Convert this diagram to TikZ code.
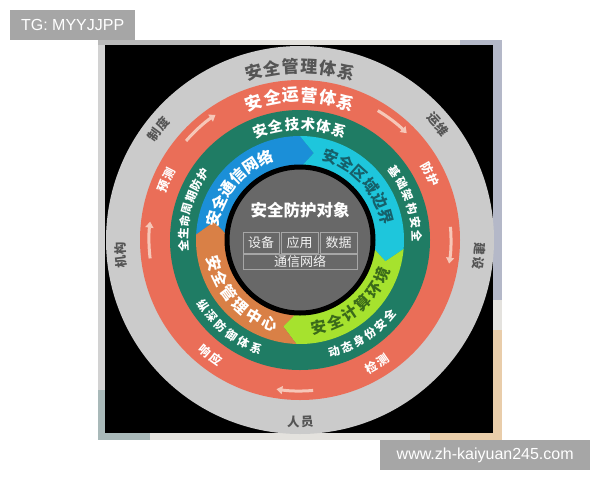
\documentclass[tikz,border=0pt]{standalone}
\usepackage{fontspec}
\setmainfont{Noto Sans CJK SC}
\newfontfamily\wmfont{Liberation Sans}
\usetikzlibrary{arrows.meta}
\definecolor{framebg}{HTML}{E4E2DE}
\definecolor{ringgray}{HTML}{CBCBCB}
\definecolor{ringred}{HTML}{EA6E58}
\definecolor{ringgreen}{HTML}{1F7C64}
\definecolor{segblue}{HTML}{1B8FD8}
\definecolor{segcyan}{HTML}{1EC6DC}
\definecolor{seglime}{HTML}{A6E22E}
\definecolor{segorange}{HTML}{D98046}
\definecolor{centergray}{HTML}{686868}
\definecolor{graytext}{HTML}{555555}
\definecolor{cyantext}{HTML}{16606A}
\definecolor{limetext}{HTML}{3A6A1A}
\definecolor{arrowpink}{HTML}{F6C7B8}
\definecolor{wmgray}{HTML}{A6A6A6}
\definecolor{tileteal}{HTML}{A9B9B9}
\definecolor{tileblue}{HTML}{B4B8C8}
\definecolor{tilebeige}{HTML}{E9CDAA}
\newcommand{\toparc}[6]{\foreach \ch [count=\i from 0] in {#6} {\pgfmathsetmacro{\ang}{#2-\i*#3}\node[#5, rotate=\ang-90] (#1-\i) at (\ang:#4) {\ch};}}
\newcommand{\botarc}[6]{\foreach \ch [count=\i from 0] in {#6} {\pgfmathsetmacro{\ang}{#2+\i*#3}\node[#5, rotate=\ang+90] (#1-\i) at (\ang:#4) {\ch};}}
\newcommand{\segment}[3]{\fill[#3] (#1:104pt) arc[start angle=#1, end angle=#2, radius=104pt] -- ({#2-9}:88pt) -- (#2:72pt) arc[start angle=#2, end angle=#1, radius=72pt] -- ({#1-9}:88pt) -- cycle;}
\tikzset{
  chr/.style={inner sep=0pt, font=\bfseries\fontsize{#1}{#1}\selectfont},
  grayt/.style={chr=#1, text=graytext},
  whitet/.style={chr=#1, text=white},
  cyant/.style={chr=#1, text=cyantext},
  limet/.style={chr=#1, text=limetext},
  cyclearrow/.style={draw=arrowpink, line width=3pt, -{Triangle[length=6pt,width=8pt]}},
  objbox/.style={draw=gray!70, line width=0.7pt, inner sep=0pt, text=white!90!gray, font=\fontsize{13}{13}\selectfont},
  wmbox/.style={fill=wmgray, text=white, inner sep=0pt, font=\wmfont\fontsize{16}{16}\selectfont}
}
\begin{document}
\begin{tikzpicture}[x=1pt,y=1pt]
\useasboundingbox (0,0) rectangle (600,-480);
\fill[white] (0,0) rectangle (600,-480);
% photo frame
\fill[framebg] (98,-40) rectangle (502,-440);
\fill[gray!55] (98,-40) rectangle (220,-45);
\fill[gray!35] (98,-45) rectangle (105,-390);
\fill[tileteal] (98,-390) rectangle (105,-440);
\fill[tileteal] (98,-433) rectangle (150,-440);
\fill[tileblue] (460,-40) rectangle (502,-45);
\fill[tileblue] (493,-40) rectangle (502,-300);
\fill[tilebeige] (493,-330) rectangle (502,-440);
\fill[tilebeige] (430,-433) rectangle (502,-440);
% black square
\fill[black] (105,-45) rectangle (493,-433);
\begin{scope}[shift={(300,-240)}]
  \fill[ringgray] (0,0) circle[radius=194pt];
  \fill[ringred] (0,0) circle[radius=160pt];
  \fill[ringgreen] (0,0) circle[radius=130pt];
  \segment{177}{90}{segblue}
  \segment{90}{-5}{segcyan}
  \segment{-5}{-92}{seglime}
  \segment{-92}{-183}{segorange}
  \draw[black, line width=5pt, fill=centergray] (0,0) circle[radius=73pt];
  % gray ring texts
  \toparc{gA}{105.5}{6.2}{174pt}{grayt=17}{安,全,管,理,体,系}
  \toparc{gB}{144}{4.3}{180pt}{grayt=12.5}{制,度}
  \toparc{gC}{42}{4.3}{180pt}{grayt=12.5}{运,维}
  \toparc{gD}{187}{4.3}{180pt}{grayt=12.5}{机,构}
  \toparc{gE}{-3}{4.3}{180pt}{grayt=12.5}{建,设}
  \botarc{gF}{268}{4.3}{182pt}{grayt=12.5}{人,员}
  % red ring texts
  \toparc{rA}{108.5}{7.4}{145pt}{whitet=17}{安,全,运,营,体,系}
  \toparc{rB}{158.5}{5.2}{146pt}{whitet=12}{预,测}
  \toparc{rC}{29.5}{5.2}{146pt}{whitet=12}{防,护}
  \botarc{rD}{299.5}{5.2}{146pt}{whitet=12}{检,测}
  \botarc{rE}{229.5}{5.2}{146pt}{whitet=12}{响,应}
  % cycle arrows
  \draw[cyclearrow] (139:151pt) arc[start angle=139, end angle=124, radius=151pt];
  \draw[cyclearrow] (59:151pt) arc[start angle=59, end angle=45, radius=151pt];
  \draw[cyclearrow] (5:151pt) arc[start angle=5, end angle=-9, radius=151pt];
  \draw[cyclearrow] (275:151pt) arc[start angle=275, end angle=261, radius=151pt];
  \draw[cyclearrow] (187:151pt) arc[start angle=187, end angle=173, radius=151pt];
  % green ring texts
  \toparc{tA}{110}{8}{116pt}{whitet=14.5}{安,全,技,术,体,系}
  \toparc{tB}{183}{6.2}{117pt}{whitet=11.5}{全,生,命,周,期,防,护}
  \toparc{tC}{36}{6.8}{117pt}{whitet=11.5}{基,础,架,构,安,全}
  \botarc{tD}{214}{6.8}{117pt}{whitet=11.5}{纵,深,防,御,体,系}
  \botarc{tE}{287}{6.6}{117pt}{whitet=11.5}{动,态,身,份,安,全}
  % segment texts
  \toparc{sA}{166}{10.6}{89pt}{whitet=15.5}{安,全,通,信,网,络}
  \toparc{sB}{70}{11}{89pt}{cyant=15.5}{安,全,区,域,边,界}
  \botarc{sC}{282}{11}{89pt}{limet=15.5}{安,全,计,算,环,境}
  \botarc{sD}{195}{11}{89pt}{whitet=15.5}{安,全,管,理,中,心}
  % center
  \node[whitet=16.5] (obj) at (0,30) {安全防护对象};
  \node[objbox, minimum width=36pt, minimum height=21pt] (dev) at (-39,-2.5) {设备};
  \node[objbox, minimum width=37pt, minimum height=21pt] (app) at (-0.5,-2.5) {应用};
  \node[objbox, minimum width=37pt, minimum height=21pt] (dat) at (38.5,-2.5) {数据};
  \node[objbox, minimum width=114pt, minimum height=15pt] (net) at (0,-21.5) {通信网络};
\end{scope}
% watermarks
\node[wmbox, anchor=north west, minimum width=125pt, minimum height=30pt] (wm1) at (10,-10) {TG: MYYJJPP};
\node[wmbox, anchor=north west, minimum width=210pt, minimum height=30pt] (wm2) at (380,-440) {www.zh-kaiyuan245.com};
\end{tikzpicture}
\end{document}
